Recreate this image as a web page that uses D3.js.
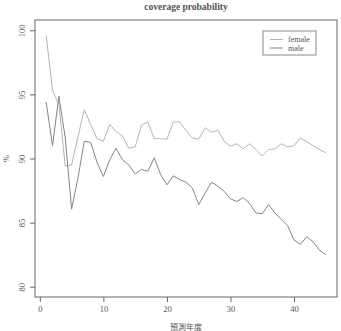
<!DOCTYPE html>
<html>
<head>
<meta charset="utf-8">
<script src="https://cdn.jsdelivr.net/npm/d3@7"></script>
<style>
  body { margin: 0; background: #fff; }
  svg { display: block; }
  text { font-family: "Liberation Serif", "DejaVu Serif", serif; fill: #555; }
</style>
</head>
<body>
<div id="chart"></div>
<script>
// forecast year index
const years = d3.range(1, 46);

const female = [
  99.6, 95.3, 94.2, 89.4, 89.5, 91.7, 93.8, 92.65, 91.55, 91.35,
  92.65, 92.1, 91.75, 90.8, 90.9, 92.6, 92.85, 91.55, 91.55, 91.5,
  92.85, 92.85, 92.2, 91.6, 91.5, 92.4, 92.05, 92.2, 91.35, 90.95,
  91.15, 90.75, 91.15, 90.7, 90.2, 90.7, 90.75, 91.15, 90.9, 91.0,
  91.6, 91.3, 91.0, 90.7, 90.45
];

const male = [
  94.4, 91.0, 94.85, 91.6, 86.05, 88.5, 91.35, 91.25, 89.7, 88.6,
  89.9, 90.8, 89.9, 89.5, 88.8, 89.15, 89.0, 90.05, 88.75, 87.95,
  88.65, 88.35, 88.15, 87.7, 86.4, 87.3, 88.15, 87.85, 87.45, 86.85,
  86.65, 86.95, 86.5, 85.75, 85.7, 86.4, 85.75, 85.25, 84.75, 83.65,
  83.3, 83.9, 83.5, 82.85, 82.5
];

const yTicks = [80, 85, 90, 95, 100];
const xTicks = [0, 10, 20, 30, 40];

const series = [
  { name: 'female', values: female, color: '#b4b4b4' },
  { name: 'male', values: male, color: '#858585' }
];

const width = 341, height = 331;
const plot = { left: 35, right: 337, top: 20, bottom: 297 };

const svg = d3.select('#chart')
  .append('svg')
  .attr('width', width)
  .attr('height', height);

const x = d3.scaleLinear()
  .domain([-0.76, 46.76])
  .range([plot.left, plot.right]);

const y = d3.scaleLinear()
  .domain([79.2, 100.8])
  .range([plot.bottom, plot.top]);

// box
svg.append('rect')
  .attr('x', plot.left)
  .attr('y', plot.top)
  .attr('width', plot.right - plot.left)
  .attr('height', plot.bottom - plot.top)
  .attr('fill', 'none')
  .attr('stroke', '#666')
  .attr('stroke-width', 1);

// x axis
const xAxis = svg.append('g')
  .attr('transform', 'translate(0,' + plot.bottom + ')')
  .call(d3.axisBottom(x).tickValues(xTicks).tickSize(5).tickPadding(4).tickFormat(d3.format('d')));
xAxis.select('.domain').remove();
xAxis.selectAll('line').attr('stroke', '#666');
xAxis.selectAll('text')
  .attr('font-size', 8.5)
  .style('font-family', '"Liberation Serif", serif')
  .attr('fill', '#666');

// y axis with rotated labels
const yAxis = svg.append('g')
  .attr('transform', 'translate(' + plot.left + ',0)')
  .call(d3.axisLeft(y).tickValues(yTicks).tickSize(5).tickFormat(d3.format('d')));
yAxis.select('.domain').remove();
yAxis.selectAll('line').attr('stroke', '#666');
yAxis.selectAll('text')
  .attr('x', null)
  .attr('dy', null)
  .attr('text-anchor', 'middle')
  .attr('transform', 'translate(-10,0) rotate(-90)')
  .attr('font-size', 8.5)
  .style('font-family', '"Liberation Serif", serif')
  .attr('fill', '#666');

// lines
const line = d3.line()
  .x((d, i) => x(years[i]))
  .y(d => y(d));

svg.selectAll('path.series')
  .data(series)
  .enter()
  .append('path')
  .attr('class', 'series')
  .attr('d', d => line(d.values))
  .attr('fill', 'none')
  .attr('stroke', d => d.color)
  .attr('stroke-width', 1)
  .attr('stroke-linejoin', 'round');

// title
svg.append('text')
  .attr('x', (plot.left + plot.right) / 2)
  .attr('y', 10)
  .attr('text-anchor', 'middle')
  .attr('font-size', 9.5)
  .attr('font-weight', 'bold')
  .attr('fill', '#444')
  .text('coverage probability');

// axis titles
svg.append('text')
  .attr('x', (plot.left + plot.right) / 2)
  .attr('y', 330)
  .attr('text-anchor', 'middle')
  .attr('font-size', 8)
  .style('font-family', '"Noto Sans CJK TC", sans-serif')
  .attr('fill', '#666')
  .text('預測年度');

svg.append('text')
  .attr('transform', 'translate(9,' + ((plot.top + plot.bottom) / 2) + ') rotate(-90)')
  .attr('text-anchor', 'middle')
  .attr('font-size', 8.5)
  .attr('fill', '#666')
  .text('%');

// legend
const legend = svg.append('g')
  .attr('transform', 'translate(263,31)');

legend.append('rect')
  .attr('width', 53)
  .attr('height', 24)
  .attr('fill', '#fff')
  .attr('stroke', '#888');

const item = legend.selectAll('g.item')
  .data(series)
  .enter()
  .append('g')
  .attr('class', 'item')
  .attr('transform', (d, i) => 'translate(0,' + (8.5 + i * 8.5) + ')');

item.append('line')
  .attr('x1', 7)
  .attr('x2', 20)
  .attr('stroke', d => d.color)
  .attr('stroke-width', 1);

item.append('text')
  .attr('x', 25)
  .attr('dy', '0.32em')
  .attr('font-size', 8)
  .attr('fill', '#666')
  .text(d => d.name);
</script>
</body>
</html>
